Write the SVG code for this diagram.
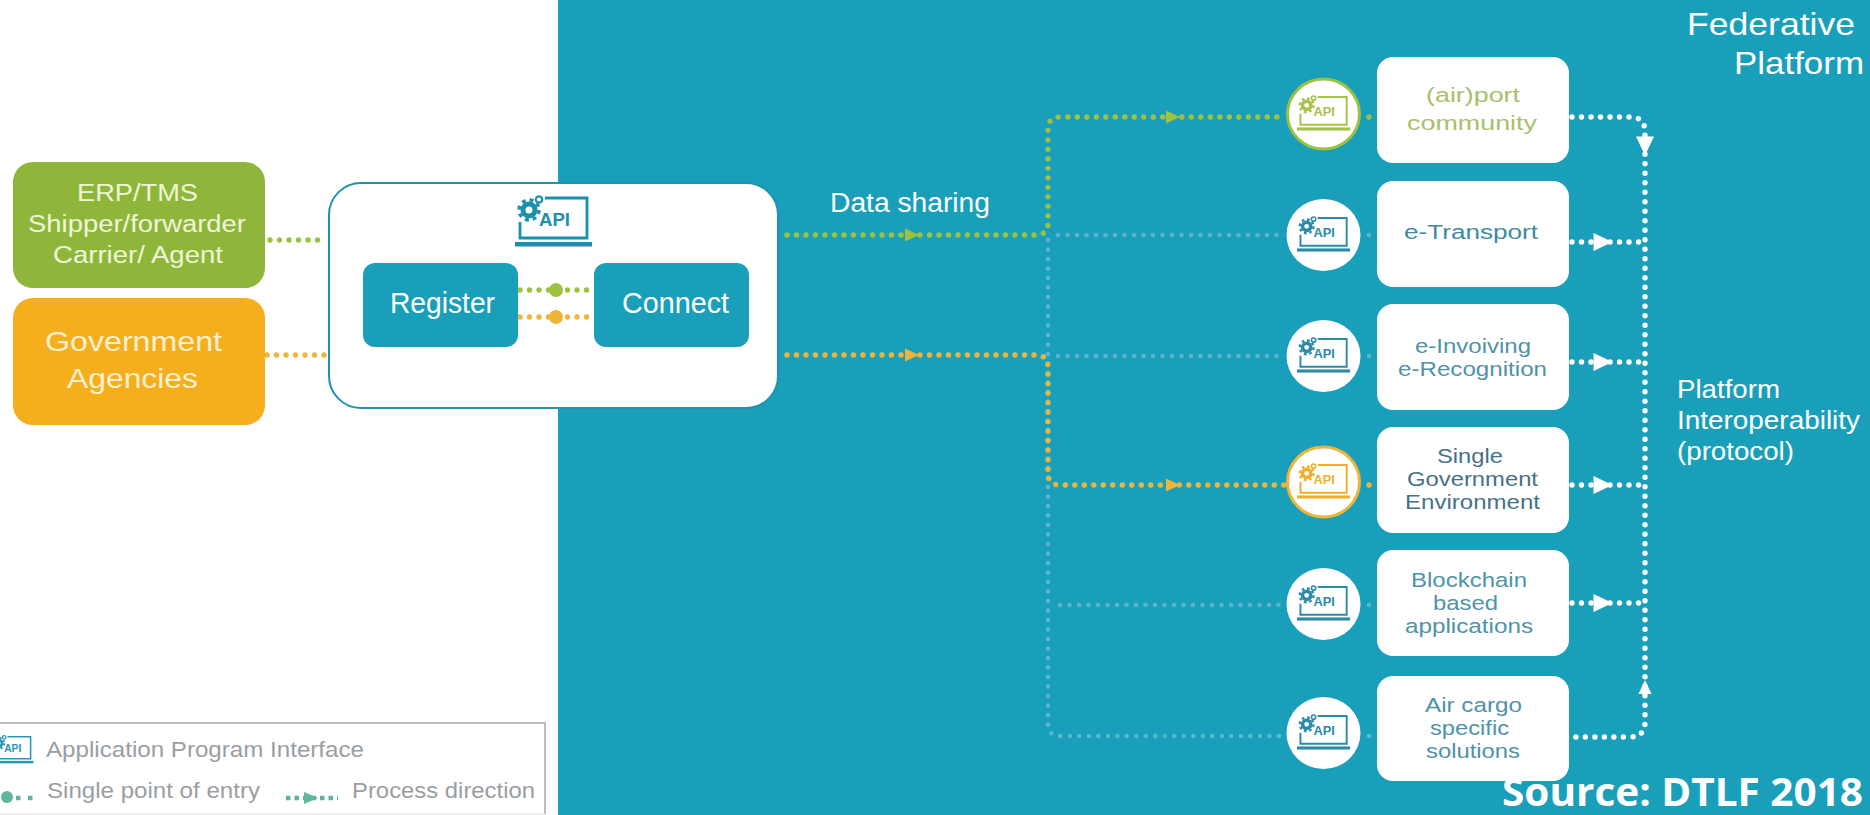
<svg xmlns="http://www.w3.org/2000/svg" width="1870" height="815" viewBox="0 0 1870 815">
<style>
text{font-family:"Liberation Sans",Arial,sans-serif;text-anchor:start}
.w{fill:#fff}
.lw{fill:#eef6d8}
.ly{fill:#fdf0cf}
.n{font-size:20.5px}
.dot{fill:none;stroke-linecap:round;stroke-dasharray:0 9.5;stroke-width:5.4}
.g{stroke:#9cc23f}
.o{stroke:#eeb53a}
.p{stroke:#5db6cf;stroke-width:4.6}
.wh{stroke:#fff}
.fg{fill:#9cc23f}
.fo{fill:#eeb53a}
.fw{fill:#fff}
.box{fill:#fff}
.reg{fill:#1a9fbb}
.leg{font-size:22px;fill:#9a9ea2}
</style>
<defs>
<g id="api">
<path d="M5 27V43H72V3H30" fill="none" stroke="currentColor" stroke-width="2.8"/>
<rect x="0" y="47" width="77" height="4.5" fill="currentColor"/>
<circle cx="14" cy="15" r="6" fill="none" stroke="currentColor" stroke-width="5"/>
<circle cx="14" cy="15" r="10" fill="none" stroke="currentColor" stroke-width="3.4" stroke-dasharray="3.9 4"/>
<circle cx="24" cy="4.5" r="3.2" fill="none" stroke="currentColor" stroke-width="2.2"/>
<text x="24" y="31" font-size="19" font-weight="bold" fill="currentColor" textLength="31" lengthAdjust="spacingAndGlyphs">API</text>
</g>
<polygon id="tri" points="-7,-6.5 7,0 -7,6.5"/>
<polygon id="tri2" points="-9.5,-9 9.5,0 -9.5,9"/>
</defs>

<rect id="background" width="1870" height="815" fill="#fff"/>
<rect id="panel" x="558" y="0" width="1312" height="815" fill="#1a9fbb"/>

<g id="hub">
<rect x="329" y="183" width="449" height="225" rx="32" fill="#fff" stroke="#1f93ad" stroke-width="2"/>
<use href="#api" x="515" y="195" color="#1a8fae"/>
</g>

<g id="connectors">
<path class="dot p" d="M1048 240V723Q1048 736 1060 736H1285"/>
<path class="dot p" d="M1058 235H1285M1058 356H1285M1060 605H1285"/>
<path class="dot p" d="M1369 235v1M1369 356v1M1369 605v1M1369 736v1"/>
<path class="dot g" d="M787 235H1036Q1048 235 1048 223V129Q1048 117 1060 117H1285M1369 117v1"/>
<path class="dot o" d="M787 355H1036Q1048 355 1048 367V473Q1048 485 1060 485H1285M1369 485v1"/>
<path class="dot g" d="M270 240H322"/>
<path class="dot o" d="M267 355H329"/>
<path class="dot g" d="M520 290H594"/>
<path class="dot o" d="M520 317H594"/>
<circle cx="556" cy="290" r="7" class="fg"/>
<circle cx="556" cy="317" r="7" class="fo"/>
<path class="dot wh" d="M1572 117H1630Q1645 117 1645 132V722Q1645 737 1630 737H1572"/>
<path class="dot wh" d="M1572 242H1640M1572 362H1640M1572 485H1640M1572 603H1640"/>
<use href="#tri" class="fg" x="912" y="235"/>
<use href="#tri" class="fo" x="912" y="355"/>
<use href="#tri" class="fg" x="1173" y="117"/>
<use href="#tri" class="fo" x="1173" y="485"/>
<use href="#tri2" class="fw" x="1603" y="242"/>
<use href="#tri2" class="fw" x="1603" y="362"/>
<use href="#tri2" class="fw" x="1603" y="485"/>
<use href="#tri2" class="fw" x="1603" y="603"/>
<use href="#tri2" class="fw" transform="translate(1645 146) rotate(90)"/>
<use href="#tri" class="fw" transform="translate(1645 687) rotate(-90)"/>
</g>

<g id="erp">
<rect x="13" y="162" width="252" height="126" rx="20" fill="#8fb63a"/>
<text class="lw" x="77" y="201" font-size="23" textLength="121" lengthAdjust="spacingAndGlyphs">ERP/TMS</text>
<text class="lw" x="28" y="232" font-size="23" textLength="218" lengthAdjust="spacingAndGlyphs">Shipper/forwarder</text>
<text class="lw" x="53" y="263" font-size="23" textLength="170" lengthAdjust="spacingAndGlyphs">Carrier/ Agent</text>
</g>
<g id="government">
<rect x="13" y="298" width="252" height="127" rx="20" fill="#f5ae1c"/>
<text class="ly" x="45" y="351" font-size="28" textLength="177" lengthAdjust="spacingAndGlyphs">Government</text>
<text class="ly" x="67" y="388" font-size="28" textLength="131" lengthAdjust="spacingAndGlyphs">Agencies</text>
</g>

<g id="register">
<rect x="363" y="263" width="155" height="84" rx="12" class="reg"/>
<text class="w" x="390" y="313" font-size="29" textLength="105" lengthAdjust="spacingAndGlyphs">Register</text>
</g>
<g id="connect">
<rect x="594" y="263" width="155" height="84" rx="12" class="reg"/>
<text class="w" x="622" y="313" font-size="29" textLength="107" lengthAdjust="spacingAndGlyphs">Connect</text>
</g>
<text id="data-sharing" class="w" x="830" y="212" font-size="27" textLength="160" lengthAdjust="spacingAndGlyphs">Data sharing</text>

<g id="node-airport">
<ellipse cx="1323.5" cy="114" rx="36" ry="35" fill="#fff" stroke="#9cc23f" stroke-width="3"/>
<use href="#api" transform="translate(1297 95) scale(.69)" color="#a5c24a"/>
<rect x="1377" y="57" width="192" height="106" rx="16" class="box"/>
<text class="n" fill="#a8bf6a" x="1426" y="102" textLength="94" lengthAdjust="spacingAndGlyphs">(air)port</text>
<text class="n" fill="#a8bf6a" x="1407" y="130" textLength="130" lengthAdjust="spacingAndGlyphs">community</text>
</g>
<g id="node-transport">
<ellipse cx="1323.5" cy="235" rx="37" ry="36" fill="#fff"/>
<use href="#api" transform="translate(1297 216) scale(.69)" color="#2a8aa8"/>
<rect x="1377" y="181" width="192" height="106" rx="16" class="box"/>
<text class="n" fill="#3f8aa0" x="1404" y="239" textLength="134" lengthAdjust="spacingAndGlyphs">e-Transport</text>
</g>
<g id="node-invoicing">
<ellipse cx="1323.5" cy="356" rx="37" ry="36" fill="#fff"/>
<use href="#api" transform="translate(1297 337) scale(.69)" color="#2a8aa8"/>
<rect x="1377" y="304" width="192" height="106" rx="16" class="box"/>
<text class="n" fill="#4f93a8" x="1415" y="353" textLength="116" lengthAdjust="spacingAndGlyphs">e-Invoiving</text>
<text class="n" fill="#4f93a8" x="1398" y="376" textLength="149" lengthAdjust="spacingAndGlyphs">e-Recognition</text>
</g>
<g id="node-single">
<ellipse cx="1323.5" cy="482" rx="36" ry="35" fill="#fff" stroke="#eeb53a" stroke-width="3"/>
<use href="#api" transform="translate(1297 463) scale(.69)" color="#f0ae2a"/>
<rect x="1377" y="427" width="192" height="106" rx="16" class="box"/>
<text class="n" fill="#47708a" x="1437" y="463" textLength="66" lengthAdjust="spacingAndGlyphs">Single</text>
<text class="n" fill="#47708a" x="1407" y="486" textLength="131" lengthAdjust="spacingAndGlyphs">Government</text>
<text class="n" fill="#47708a" x="1405" y="509" textLength="135" lengthAdjust="spacingAndGlyphs">Environment</text>
</g>
<g id="node-blockchain">
<ellipse cx="1323.5" cy="604" rx="37" ry="36" fill="#fff"/>
<use href="#api" transform="translate(1297 585) scale(.69)" color="#2a8aa8"/>
<rect x="1377" y="550" width="192" height="106" rx="16" class="box"/>
<text class="n" fill="#4f93a8" x="1411" y="587" textLength="116" lengthAdjust="spacingAndGlyphs">Blockchain</text>
<text class="n" fill="#4f93a8" x="1433" y="610" textLength="65" lengthAdjust="spacingAndGlyphs">based</text>
<text class="n" fill="#4f93a8" x="1405" y="633" textLength="128" lengthAdjust="spacingAndGlyphs">applications</text>
</g>
<g id="node-aircargo">
<ellipse cx="1323.5" cy="733" rx="37" ry="36" fill="#fff"/>
<use href="#api" transform="translate(1297 714) scale(.69)" color="#2a8aa8"/>
<rect x="1377" y="676" width="192" height="105" rx="16" class="box"/>
<text class="n" fill="#4f93a8" x="1425" y="712" textLength="97" lengthAdjust="spacingAndGlyphs">Air cargo</text>
<text class="n" fill="#4f93a8" x="1430" y="735" textLength="79" lengthAdjust="spacingAndGlyphs">specific</text>
<text class="n" fill="#4f93a8" x="1426" y="758" textLength="94" lengthAdjust="spacingAndGlyphs">solutions</text>
</g>

<g id="labels">
<text class="w" x="1687" y="35" font-size="32" textLength="168" lengthAdjust="spacingAndGlyphs">Federative</text>
<text class="w" x="1734" y="74" font-size="32" textLength="130" lengthAdjust="spacingAndGlyphs">Platform</text>
<text class="w" x="1677" y="398" font-size="25" textLength="103" lengthAdjust="spacingAndGlyphs">Platform</text>
<text class="w" x="1677" y="429" font-size="25" textLength="183" lengthAdjust="spacingAndGlyphs">Interoperability</text>
<text class="w" x="1677" y="460" font-size="25" textLength="117" lengthAdjust="spacingAndGlyphs">(protocol)</text>
<text class="w" x="1502" y="806" font-size="40" font-weight="bold" style="font-family:'Open Sans','Liberation Sans',sans-serif" textLength="361" lengthAdjust="spacingAndGlyphs">Source: DTLF 2018</text>
</g>

<g id="legend">
<path d="M0 723H545V814" fill="none" stroke="#a8a8a8" stroke-width="1.5"/>
<path d="M0 814H545" fill="none" stroke="#dcdcdc" stroke-width="1"/>
<use href="#api" transform="translate(-9 735) scale(.55)" color="#2a95b3"/>
<text class="leg" x="46" y="757" textLength="318" lengthAdjust="spacingAndGlyphs">Application Program Interface</text>
<circle cx="7" cy="797" r="6" fill="#5fb5a0"/>
<path d="M16 798H34" fill="none" stroke="#5fb5a0" stroke-width="4.5" stroke-dasharray="4.5 7.5"/>
<text class="leg" x="47" y="798" textLength="213" lengthAdjust="spacingAndGlyphs">Single point of entry</text>
<path d="M286 798H338" fill="none" stroke="#5fb5a0" stroke-width="4.5" stroke-dasharray="4.5 4"/>
<polygon points="304,792 318,798 304,804" fill="#5fb5a0"/>
<text class="leg" x="352" y="798" textLength="183" lengthAdjust="spacingAndGlyphs">Process direction</text>
</g>
</svg>
